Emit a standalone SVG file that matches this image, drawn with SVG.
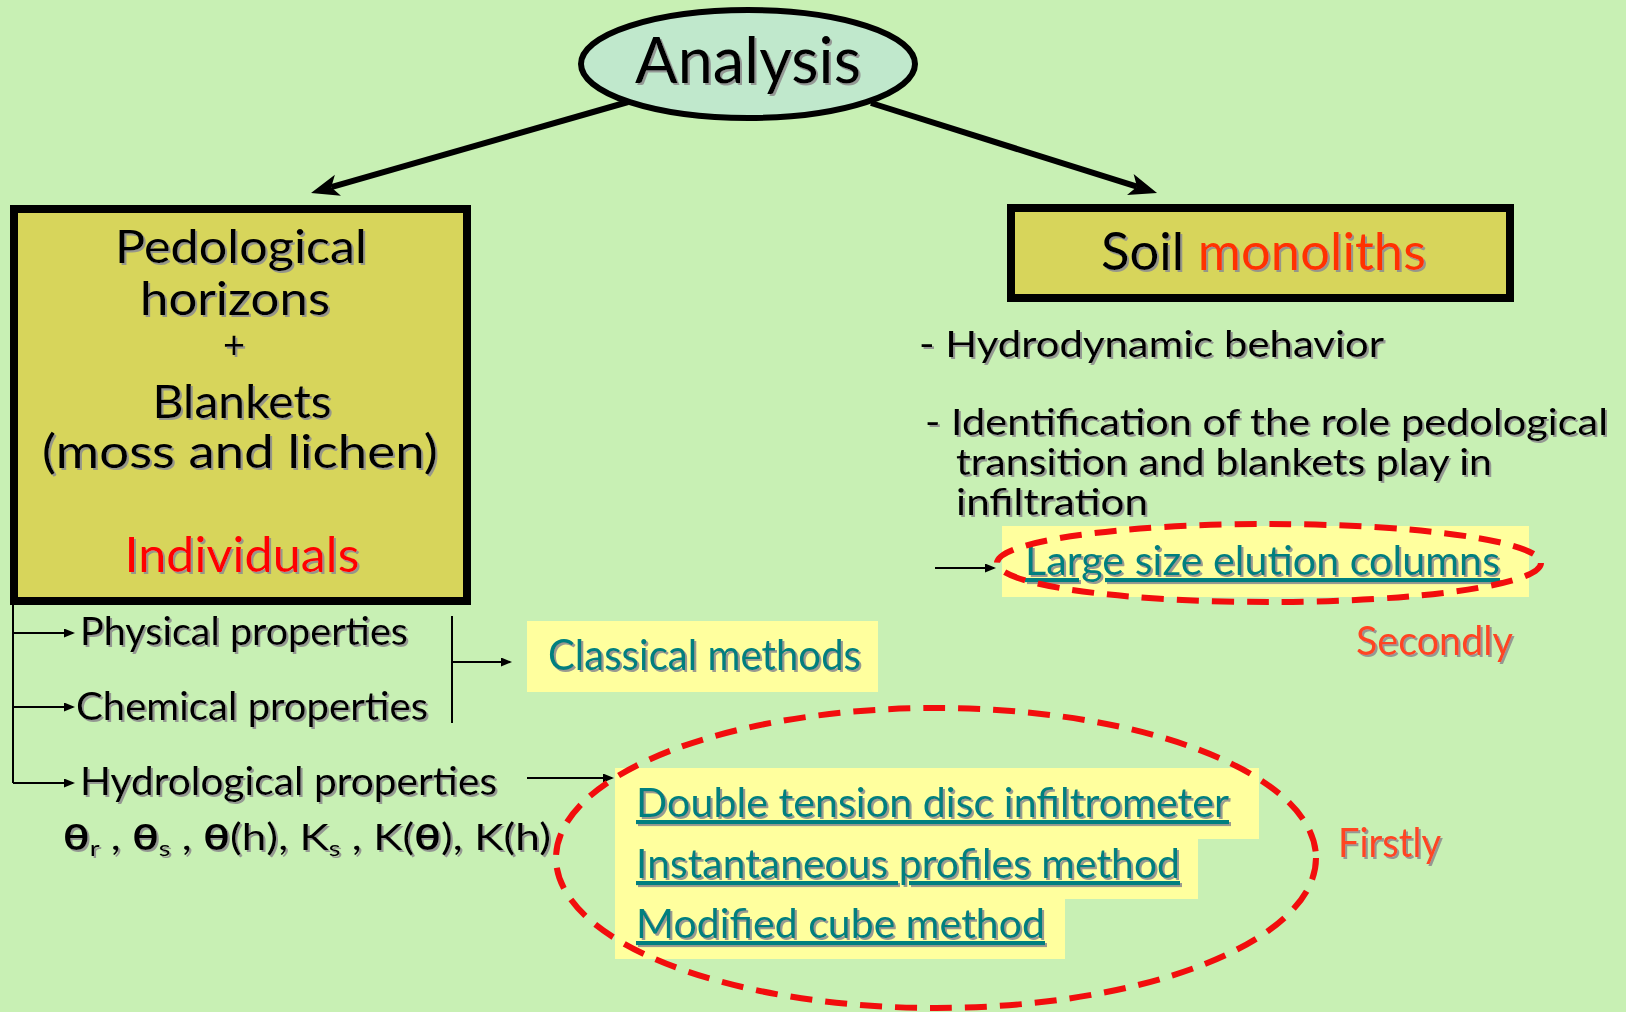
<svg xmlns="http://www.w3.org/2000/svg" width="1626" height="1012" viewBox="0 0 1626 1012">
<style>
text{font-family:Lato,"Open Sans","DejaVu Sans",sans-serif;filter:url(#sh)}
.blk{fill:#000}
.teal{fill:#007F7F}
.ul{text-decoration:underline}
.red{fill:#FF0000}
.org{fill:#FF4422}
.thin{stroke:#000;stroke-width:2;fill:none}
.dash{fill:none;stroke:#F20D0D;stroke-width:6;stroke-dasharray:22 13}
.hl{fill:#FFFF9E}
</style>
<defs>
<filter id="sh" x="-5%" y="-20%" width="110%" height="140%">
<feDropShadow dx="2" dy="2" stdDeviation="0.4" flood-color="#8f8f8f" flood-opacity="0.9"/>
</filter>
<marker id="big" markerUnits="userSpaceOnUse" markerWidth="30" markerHeight="24" refX="7" refY="11" orient="auto">
<path d="M0,0 L28,11 L0,22 L7,11 z" fill="#000"/>
</marker>
<marker id="sm" markerUnits="userSpaceOnUse" markerWidth="12" markerHeight="10" refX="9" refY="4.5" orient="auto">
<path d="M0,0 L11,4.5 L0,9 z" fill="#000"/>
</marker>
</defs>
<rect x="0" y="0" width="1626" height="1012" fill="#C8F0B4"/>

<g id="connectors">
<line x1="628" y1="102" x2="331.2" y2="187.2" stroke="#000" stroke-width="6" marker-end="url(#big)"/>
<line x1="871" y1="103" x2="1137" y2="186.7" stroke="#000" stroke-width="6" marker-end="url(#big)"/>
<polyline class="thin" points="13,605 13,783"/>
<line class="thin" x1="13" y1="633" x2="73" y2="633" marker-end="url(#sm)"/>
<line class="thin" x1="13" y1="707" x2="73" y2="707" marker-end="url(#sm)"/>
<line class="thin" x1="13" y1="783" x2="73" y2="783" marker-end="url(#sm)"/>
<line class="thin" x1="452" y1="616" x2="452" y2="723"/>
<line class="thin" x1="452" y1="662" x2="510" y2="662" marker-end="url(#sm)"/>
<line class="thin" x1="527" y1="778" x2="612" y2="778" marker-end="url(#sm)"/>
<line class="thin" x1="935" y1="568" x2="994" y2="568" marker-end="url(#sm)"/>
</g>

<g id="analysis">
<ellipse cx="748" cy="64" rx="167" ry="54" fill="#C0E8CC" stroke="#000" stroke-width="6"/>
<text x="748" y="83" font-size="64" text-anchor="middle" textLength="226" lengthAdjust="spacingAndGlyphs" class="blk">Analysis</text>
</g>

<g id="pedological">
<rect x="14" y="209" width="453" height="392" fill="#D7D55B" stroke="#000" stroke-width="8"/>
<text x="241" y="263" font-size="46" text-anchor="middle" textLength="252" lengthAdjust="spacingAndGlyphs">Pedological</text>
<text x="235" y="315" font-size="46" text-anchor="middle" textLength="190" lengthAdjust="spacingAndGlyphs">horizons</text>
<text x="234" y="358" font-size="38" text-anchor="middle">+</text>
<text x="242" y="418" font-size="46" text-anchor="middle" textLength="179" lengthAdjust="spacingAndGlyphs">Blankets</text>
<text x="240" y="468" font-size="46" text-anchor="middle" textLength="396" lengthAdjust="spacingAndGlyphs">(moss and lichen)</text>
<text x="242" y="572" font-size="48" text-anchor="middle" textLength="235" lengthAdjust="spacingAndGlyphs" class="red">Individuals</text>
</g>

<g id="monoliths">
<rect x="1011" y="208" width="499" height="90" fill="#D7D55B" stroke="#000" stroke-width="8"/>
<text x="1101" y="270" font-size="52" textLength="325" lengthAdjust="spacingAndGlyphs">Soil <tspan fill="#FF3300">monoliths</tspan></text>
</g>

<g id="monolith-notes">
<text x="919" y="357" font-size="37" textLength="465" lengthAdjust="spacingAndGlyphs">- Hydrodynamic behavior</text>
<text x="925" y="435" font-size="36" textLength="683" lengthAdjust="spacingAndGlyphs">- Identification of the role pedological</text>
<text x="956" y="475" font-size="36" textLength="536" lengthAdjust="spacingAndGlyphs">transition and blankets play in</text>
<text x="956" y="515" font-size="36" textLength="192" lengthAdjust="spacingAndGlyphs">infiltration</text>
</g>

<g id="elution">
<rect class="hl" x="1002" y="526" width="527" height="71"/>
<text x="1025" y="575" font-size="41" textLength="475" lengthAdjust="spacingAndGlyphs" class="teal ul">Large size elution columns</text>
<ellipse class="dash" cx="1269" cy="563" rx="272" ry="39"/>
</g>

<g id="secondly">
<text x="1356" y="655" font-size="40" textLength="157" lengthAdjust="spacingAndGlyphs" class="org">Secondly</text>
</g>

<g id="properties">
<text x="80" y="645" font-size="39" textLength="328" lengthAdjust="spacingAndGlyphs">Physical properties</text>
<text x="76" y="720" font-size="39" textLength="352" lengthAdjust="spacingAndGlyphs">Chemical properties</text>
<text x="80" y="795" font-size="39" textLength="417" lengthAdjust="spacingAndGlyphs">Hydrological properties</text>
<text x="63" y="850" font-size="36" font-family="'DejaVu Sans',sans-serif" textLength="488" lengthAdjust="spacingAndGlyphs"><tspan font-weight="bold">θ</tspan><tspan font-size="22" dy="6">r</tspan><tspan dy="-6"> , </tspan><tspan font-weight="bold">θ</tspan><tspan font-size="22" dy="6">s</tspan><tspan dy="-6"> , </tspan><tspan font-weight="bold">θ</tspan>(h), K<tspan font-size="22" dy="6">s</tspan><tspan dy="-6"> , K(</tspan><tspan font-weight="bold">θ</tspan>), K(h)</text>
</g>

<g id="classical">
<rect class="hl" x="527" y="621" width="351" height="71"/>
<text x="548" y="670" font-size="42" textLength="313" lengthAdjust="spacingAndGlyphs" class="teal">Classical methods</text>
</g>

<g id="methods">
<path class="hl" d="M615,768 H1259 V839 H1198 V899 H1065 V959 H615 Z"/>
<text x="636" y="817" font-size="41" textLength="593" lengthAdjust="spacingAndGlyphs" class="teal ul">Double tension disc infiltrometer</text>
<text x="636" y="878" font-size="41" textLength="544" lengthAdjust="spacingAndGlyphs" class="teal ul">Instantaneous profiles method</text>
<text x="636" y="938" font-size="41" textLength="409" lengthAdjust="spacingAndGlyphs" class="teal ul">Modified cube method</text>
<ellipse class="dash" cx="936" cy="858" rx="380" ry="150"/>
</g>

<g id="firstly">
<text x="1338" y="857" font-size="40" textLength="103" lengthAdjust="spacingAndGlyphs" class="org">Firstly</text>
</g>
</svg>
